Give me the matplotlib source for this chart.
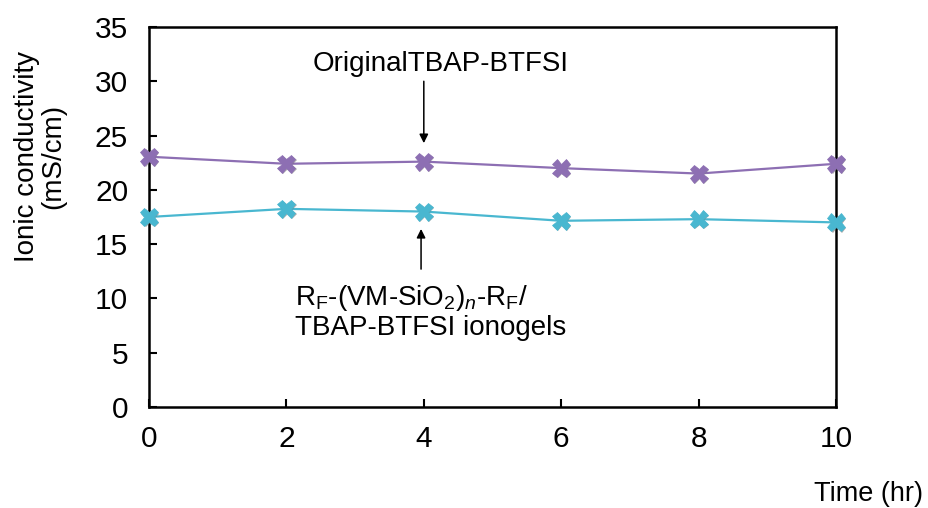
import matplotlib
matplotlib.use("Agg")
import matplotlib.pyplot as plt
import matplotlib.patheffects as pe

plt.rcParams['font.family'] = ['Liberation Sans', 'DejaVu Sans']
plt.rcParams['mathtext.fontset'] = 'custom'
plt.rcParams['mathtext.rm'] = 'Liberation Sans'
plt.rcParams['mathtext.it'] = 'Liberation Sans:italic'

time_hr = [0, 2, 4, 6, 8, 10]
original = [23.05, 22.4, 22.6, 22.0, 21.5, 22.4]
ionogel = [17.5, 18.25, 18.0, 17.15, 17.3, 17.0]
x_ticks = [0, 2, 4, 6, 8, 10]
y_ticks = [0, 5, 10, 15, 20, 25, 30, 35]

purple = '#8d6fb3'
cyan = '#49b7d0'

fig = plt.figure(figsize=(9.29, 5.08), dpi=100)
ax = fig.add_axes([0.1604, 0.1988, 0.7395, 0.7481])

shadow = [pe.SimplePatchShadow(offset=(0.8, -0.8), shadow_rgbFace='0.45', alpha=0.6), pe.Normal()]
for vals, col in [(original, purple), (ionogel, cyan)]:
    ax.plot(time_hr, vals, color=col, lw=1.6, zorder=2)
    ax.plot(time_hr, vals, ls='none', marker='X', ms=13, mfc=col, mec=col,
            mew=0.5, zorder=3, clip_on=False, path_effects=shadow)

ax.set_xlim(0, 10)
ax.set_ylim(0, 35)
ax.set_xticks(x_ticks)
ax.set_yticks(y_ticks)
ax.tick_params(direction='in', length=6, width=1.5, labelsize=21.5)
ax.tick_params(axis='x', pad=13)
ax.tick_params(axis='y', pad=15)
for s in ax.spines.values():
    s.set_linewidth(1.8)

ax.set_ylabel('Ionic conductivity\n(mS/cm)', fontsize=20, linespacing=1.0)
ax.yaxis.set_label_coords(-0.121, 0.66)
ax.set_xlabel('Time (hr)', fontsize=19.5, ha='right')
ax.xaxis.set_label_coords(1.127, -0.195)

ax.text(4.25, 31.6, 'OriginalTBAP-BTFSI', fontsize=20, ha='center', va='center')
ax.annotate('', xy=(4.0, 24.3), xytext=(4.0, 30.0),
            arrowprops=dict(arrowstyle='-|>', color='black', lw=1.1,
                            mutation_scale=13, shrinkA=0, shrinkB=0))
ax.annotate('', xy=(3.96, 16.4), xytext=(3.96, 12.7),
            arrowprops=dict(arrowstyle='-|>', color='black', lw=1.1,
                            mutation_scale=13, shrinkA=0, shrinkB=0))
ax.text(2.12, 10.0, r'R$_\mathregular{F}$-(VM-SiO$_\mathregular{2}$)$_{\mathit{n}}$-R$_\mathregular{F}$/',
        fontsize=20, ha='left', va='center')
ax.text(2.12, 7.3, 'TBAP-BTFSI ionogels', fontsize=20, ha='left', va='center')

fig.savefig('out.png', dpi=100)
